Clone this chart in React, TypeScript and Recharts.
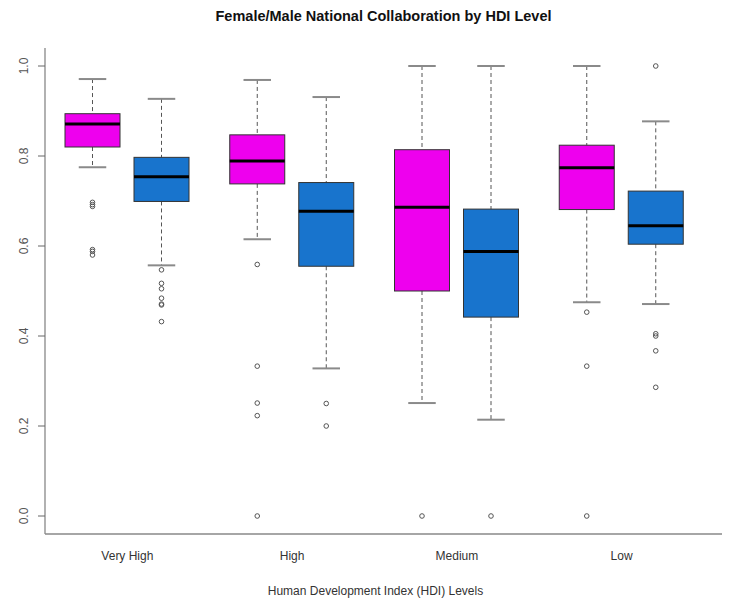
import React from "react";
import { ComposedChart, Bar, XAxis, YAxis, Label } from "recharts";

const groups = ["Very High", "High", "Medium", "Low"];
const yTicks = [0, 0.2, 0.4, 0.6, 0.8, 1.0];

const femaleMin = [0.775, 0.615, 0.251, 0.475];
const femaleQ1 = [0.82, 0.738, 0.5, 0.681];
const femaleMedian = [0.871, 0.789, 0.686, 0.774];
const femaleQ3 = [0.894, 0.847, 0.814, 0.824];
const femaleMax = [0.971, 0.969, 1.0, 1.0];
const femaleOutliers = [
  [0.697, 0.692, 0.688, 0.592, 0.588, 0.58],
  [0.559, 0.333, 0.251, 0.223, 0.0],
  [0.0],
  [0.453, 0.333, 0.0],
];

const maleMin = [0.557, 0.328, 0.214, 0.471];
const maleQ1 = [0.699, 0.555, 0.442, 0.604];
const maleMedian = [0.754, 0.677, 0.588, 0.645];
const maleQ3 = [0.797, 0.741, 0.682, 0.722];
const maleMax = [0.927, 0.931, 1.0, 0.877];
const maleOutliers = [
  [0.547, 0.517, 0.505, 0.484, 0.471, 0.469, 0.432],
  [0.25, 0.2],
  [0.0],
  [1.0, 0.405, 0.4, 0.367, 0.286],
];

const Y_MIN = -0.04;
const Y_MAX = 1.04;
const FONT = "'Liberation Sans', Arial, Helvetica, sans-serif";

const data = groups.map((g, i) => ({ group: g, i }));

type Stats = {
  min: number[];
  q1: number[];
  med: number[];
  q3: number[];
  max: number[];
  out: number[][];
};

const female: Stats = { min: femaleMin, q1: femaleQ1, med: femaleMedian, q3: femaleQ3, max: femaleMax, out: femaleOutliers };
const male: Stats = { min: maleMin, q1: maleQ1, med: maleMedian, q3: maleQ3, max: maleMax, out: maleOutliers };

function makeBoxShape(s: Stats, fill: string) {
  return (props: any) => {
    const { x, y, width, height, payload } = props;
    const i = payload.i;
    const lo = s.min[i];
    const hi = s.max[i];
    const py = (v: number) => y + (height * (hi - v)) / (hi - lo);
    const cx = x + width / 2;
    const capHalf = width / 4;
    const bottom = py(Y_MIN);
    const yQ1 = py(s.q1[i]);
    const yQ3 = py(s.q3[i]);
    const yMed = py(s.med[i]);
    const yLo = py(lo);
    const yHi = py(hi);
    return (
      <g>
        <line x1={cx} x2={cx} y1={yHi} y2={yQ3} stroke="#555" strokeWidth={1} strokeDasharray="4 3" />
        <line x1={cx} x2={cx} y1={yQ1} y2={yLo} stroke="#555" strokeWidth={1} strokeDasharray="4 3" />
        <line x1={cx - capHalf} x2={cx + capHalf} y1={yHi} y2={yHi} stroke="#8a8a8a" strokeWidth={2} />
        <line x1={cx - capHalf} x2={cx + capHalf} y1={yLo} y2={yLo} stroke="#8a8a8a" strokeWidth={2} />
        <rect x={x} y={yQ3} width={width} height={yQ1 - yQ3} fill={fill} stroke="#333" strokeWidth={1} />
        <line x1={x} x2={x + width} y1={yMed} y2={yMed} stroke="#000" strokeWidth={3} />
        {s.out[i].map((v, k) => (
          <circle key={k} cx={cx} cy={py(v)} r={2.3} fill="none" stroke="#555" strokeWidth={1} />
        ))}
        <line x1={cx} x2={cx} y1={bottom} y2={bottom + 7} stroke="#555" strokeWidth={1} />
      </g>
    );
  };
}

const YTick = (props: any) => {
  const { y, payload } = props;
  return (
    <g>
      <line x1={38} x2={45} y1={y} y2={y} stroke="#666" strokeWidth={1} />
      <g transform={`translate(24, ${y}) rotate(-90)`}>
        <text textAnchor="middle" dominantBaseline="central" fontSize={12} fill="#555" fontFamily={FONT}>
          {payload.value.toFixed(1)}
        </text>
      </g>
    </g>
  );
};

const XTick = (props: any) => {
  const { x, payload } = props;
  return (
    <text x={x} y={556} textAnchor="middle" dominantBaseline="central" fontSize={12} fill="#333" fontFamily={FONT}>
      {payload.value}
    </text>
  );
};

export default function App() {
  return (
    <div style={{ position: "absolute", left: 0, top: 0, width: 739, height: 600, background: "#fff" }}>
      <div
        style={{
          position: "absolute",
          left: 0,
          top: 7,
          width: 767,
          textAlign: "center",
          fontFamily: FONT,
          fontWeight: "bold",
          fontSize: 14.5,
          color: "#111",
          lineHeight: "18px",
        }}
      >
        Female/Male National Collaboration by HDI Level
      </div>
      <ComposedChart
        width={739}
        height={600}
        data={data}
        margin={{ top: 48, right: 17, bottom: 0, left: 0 }}
        barGap={14}
        style={{ position: "absolute", left: 0, top: 0 }}
      >
        <XAxis
          dataKey="group"
          type="category"
          height={66}
          padding={{ left: 0, right: 18 }}
          tickLine={false}
          tick={<XTick />}
          axisLine={{ stroke: "#888", strokeWidth: 1.3 }}
          interval={0}
        >
          <Label
            value="Human Development Index (HDI) Levels"
            position="insideBottom"
            offset={5}
            dx={-8}
            style={{ fontSize: 12, fill: "#333", fontFamily: FONT }}
          />
        </XAxis>
        <XAxis
          xAxisId="top"
          dataKey="group"
          orientation="top"
          height={0}
          tick={false}
          tickLine={false}
          axisLine={{ stroke: "#888", strokeWidth: 1.3 }}
        />
        <YAxis
          type="number"
          domain={[Y_MIN, Y_MAX]}
          ticks={yTicks}
          allowDataOverflow
          width={45}
          tickLine={false}
          tick={<YTick />}
          axisLine={{ stroke: "#888", strokeWidth: 1.3 }}
        />
        <YAxis
          yAxisId="r"
          orientation="right"
          type="number"
          domain={[Y_MIN, Y_MAX]}
          allowDataOverflow
          width={0}
          tick={false}
          tickLine={false}
          axisLine={{ stroke: "#888", strokeWidth: 1.3 }}
        />
        <Bar
          dataKey={(d: any) => [femaleMin[d.i], femaleMax[d.i]]}
          barSize={55}
          fill="#EE00EE"
          shape={makeBoxShape(female, "#EE00EE")}
          isAnimationActive={false}
        />
        <Bar
          dataKey={(d: any) => [maleMin[d.i], maleMax[d.i]]}
          barSize={55}
          fill="#1874CD"
          shape={makeBoxShape(male, "#1874CD")}
          isAnimationActive={false}
        />
      </ComposedChart>
    </div>
  );
}
